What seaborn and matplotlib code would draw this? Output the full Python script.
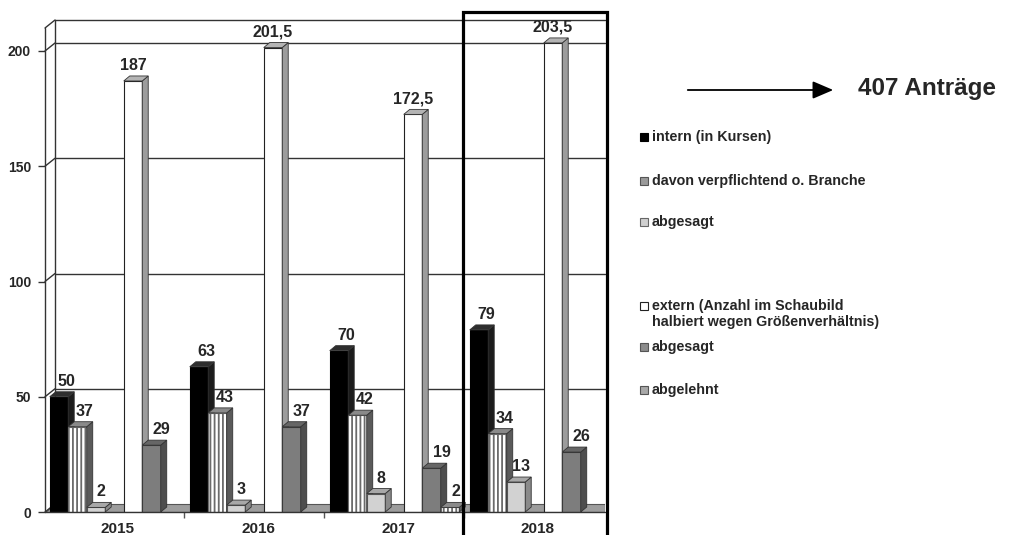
import numpy as np
import pandas as pd
import matplotlib
matplotlib.use("Agg")
import matplotlib.pyplot as plt
import seaborn as sns
from matplotlib.patches import Polygon, Rectangle, FancyArrowPatch
from matplotlib.transforms import ScaledTranslation, blended_transform_factory

# ---------------- data ----------------
YEARS = ["2015", "2016", "2017", "2018"]
INTERN = [50, 63, 70, 79]
DAVON = [37, 43, 42, 34]
ABGESAGT_INTERN = [2, 3, 8, 13]
EXTERN = [187, 201.5, 172.5, 203.5]
ABGESAGT_EXTERN = [29, 37, 19, 26]
ABGELEHNT = [np.nan, np.nan, 2, np.nan]
Y_TICKS = [0, 50, 100, 150, 200]
LEGEND_LABELS = [
    "intern (in Kursen)",
    "davon verpflichtend o. Branche",
    "abgesagt",
    "extern (Anzahl im Schaubild\nhalbiert wegen Größenverhältnis)",
    "abgesagt",
    "abgelehnt",
]
ANNOTATION = "407 Anträge"
HIGHLIGHT_YEAR = "2018"

SERIES = [INTERN, DAVON, ABGESAGT_INTERN, EXTERN, ABGESAGT_EXTERN, ABGELEHNT]

# ---------------- styles ----------------
STYLES = [
    dict(slot=0, face="#000000", side="#1c1c1c", top="#2e2e2e", edge="#000000", hatch=None, ldx=7, mk="#000000", mke="#000000"),
    dict(slot=1, face="#ffffff", side="#5a5a5a", top="#8a8a8a", edge="#6a6a6a", hatch="||||", ldx=7, mk="#9a9a9a", mke="#555555"),
    dict(slot=2, face="#d2d2d2", side="#8a8a8a", top="#a8a8a8", edge="#555555", hatch=None, ldx=5, mk="#cfcfcf", mke="#666666"),
    dict(slot=4, face="#ffffff", side="#9c9c9c", top="#b4b4b4", edge="#222222", hatch=None, ldx=0, mk="#ffffff", mke="#222222"),
    dict(slot=5, face="#7d7d7d", side="#4e4e4e", top="#666666", edge="#3a3a3a", hatch=None, ldx=10, mk="#8c8c8c", mke="#555555"),
    dict(slot=6, face="#ffffff", side="#5a5a5a", top="#8a8a8a", edge="#6a6a6a", hatch="||||", ldx=6, mk="#a8a8a8", mke="#555555"),
]
LEGEND_Y = [137, 181, 222, 314, 347, 390]

sns.set_style("white")
plt.rcParams["font.family"] = ["Liberation Sans", "DejaVu Sans"]
plt.rcParams["font.weight"] = "bold"
plt.rcParams["hatch.color"] = "#707070"
plt.rcParams["hatch.linewidth"] = 1.3

W, H = 1011, 535
fig = plt.figure(figsize=(W / 100, H / 100), dpi=100)


def fpx(x, y):
    return x / W, 1 - y / H


AX_L, AX_R, AX_B, AX_T = 45, 605, 512, 20
ax = fig.add_axes([AX_L / W, 1 - AX_B / H, (AX_R - AX_L) / W, (AX_B - AX_T) / H])
PX_X = 140.0
PX_Y = 461.0 / 200.0
X0 = -(114 - AX_L) / PX_X
X1 = X0 + (AX_R - AX_L) / PX_X
YTOP = (AX_B - AX_T) / PX_Y
DXW, DYW = 10 / PX_X, 8 / PX_Y      # wall depth
DXB, DYB = 6 / PX_X, 5 / PX_Y       # bar depth
BAR_W = 18.5 / PX_X
FIRST = -0.393

LINE = dict(color="#333333", lw=1.0, clip_on=False, zorder=1)

# floor
ax.add_patch(Polygon([(X0, 0), (X1, 0), (X1, DYW), (X0 + DXW, DYW)], closed=True,
                     facecolor="#9d9d9d", edgecolor="#555555", lw=0.8, zorder=1))
# back wall grid + connectors
for v in Y_TICKS:
    ax.plot([X0, X0 + DXW], [v, v + DYW], **LINE)
    if v > 0:
        ax.plot([X0 + DXW, X1], [v + DYW, v + DYW], **LINE)
ax.plot([X0, X0], [0, YTOP - DYW], **LINE)
ax.plot([X0 + DXW, X0 + DXW], [DYW, YTOP], **LINE)
ax.plot([X0, X0 + DXW], [YTOP - DYW, YTOP], **LINE)
ax.plot([X0 + DXW, X1], [YTOP, YTOP], **LINE)
ax.plot([X0, X1], [0, 0], color="#333333", lw=1.0, clip_on=False, zorder=5)


def fmt(v):
    return f"{v:g}".replace(".", ",")


groups = np.arange(len(YEARS))
for vals, st in zip(SERIES, STYLES):
    pos = groups + FIRST + st["slot"] * BAR_W
    df = pd.DataFrame({"x": pos, "y": vals}).dropna()
    n0 = len(ax.patches)
    sns.barplot(data=df, x="x", y="y", native_scale=True, orient="x", width=BAR_W,
                color=st["face"], saturation=1, edgecolor=st["edge"], linewidth=0.8,
                hatch=st["hatch"], errorbar=None, ax=ax, zorder=3)
    new = list(ax.patches[n0:])
    for r in new:
        x0, w, h = r.get_x(), r.get_width(), r.get_height()
        x1 = x0 + w
        ax.add_patch(Polygon([(x1, 0), (x1 + DXB, DYB), (x1 + DXB, h + DYB), (x1, h)], closed=True,
                             facecolor=st["side"], edgecolor="#333333", lw=0.6, zorder=3))
        ax.add_patch(Polygon([(x0, h), (x1, h), (x1 + DXB, h + DYB), (x0 + DXB, h + DYB)], closed=True,
                             facecolor=st["top"], edgecolor="#333333", lw=0.6, zorder=3))
        ax.annotate(fmt(h), xy=(x0 + w / 2, h), xytext=(st["ldx"] * 0.72, 8 * 0.72),
                    textcoords="offset points", ha="center", va="bottom",
                    fontsize=11.5, fontweight="bold", zorder=6)

ax.set_xlim(X0, X1)
ax.set_ylim(0, YTOP)
ax.set_xlabel("")
ax.set_ylabel("")
for s in ax.spines.values():
    s.set_visible(False)
ax.set_yticks(Y_TICKS)
ax.set_yticklabels([str(t) for t in Y_TICKS])
ax.tick_params(axis="y", length=5, width=1, color="#333333", pad=5, labelsize=10, left=True)
ax.set_xticks(groups)
ax.set_xticklabels(YEARS)
ax.set_xticks(groups[:-1] + 0.5, minor=True)
ax.tick_params(axis="x", which="major", length=0, pad=7, labelsize=11, bottom=True)
ax.tick_params(axis="x", which="minor", length=4, width=1, color="#555555", bottom=True)
for lab in ax.get_xticklabels() + ax.get_yticklabels():
    lab.set_fontweight("bold")
for lab in ax.get_xticklabels():
    lab.set_transform(lab.get_transform() + ScaledTranslation(0.04, 0, fig.dpi_scale_trans))

# highlight box around 2018
hi = YEARS.index(HIGHLIGHT_YEAR)
bt = blended_transform_factory(ax.transData, ax.transAxes)
ax.add_patch(Rectangle((hi - 0.51, -0.1), 1.03, 1.116, transform=bt, fill=False,
                       edgecolor="black", lw=2.3, clip_on=False, zorder=7))

# legend (manual, irregular spacing as in original)
for lab, st, ly in zip(LEGEND_LABELS, STYLES, LEGEND_Y):
    first_line_y = ly - 8 if "\n" in lab else ly
    mx, my = fpx(640, first_line_y + 4)
    fig.add_artist(Rectangle((mx, my), 8 / W, 8 / H, transform=fig.transFigure,
                             facecolor=st["mk"], edgecolor=st["mke"], lw=0.8))
    tx, ty = fpx(652, ly)
    fig.text(tx, ty, lab, ha="left", va="center", fontsize=10.3, fontweight="bold",
             linespacing=1.15)

# arrow + annotation
fig.add_artist(FancyArrowPatch(fpx(685, 90), fpx(836, 90), transform=fig.transFigure,
                               arrowstyle="-|>,head_length=0.7,head_width=0.3",
                               mutation_scale=18, lw=1.3, color="black"))
tx, ty = fpx(858, 89)
fig.text(tx, ty, ANNOTATION, ha="left", va="center", fontsize=17.5, fontweight="bold")

fig.savefig("out.png", dpi=100, facecolor="white")
